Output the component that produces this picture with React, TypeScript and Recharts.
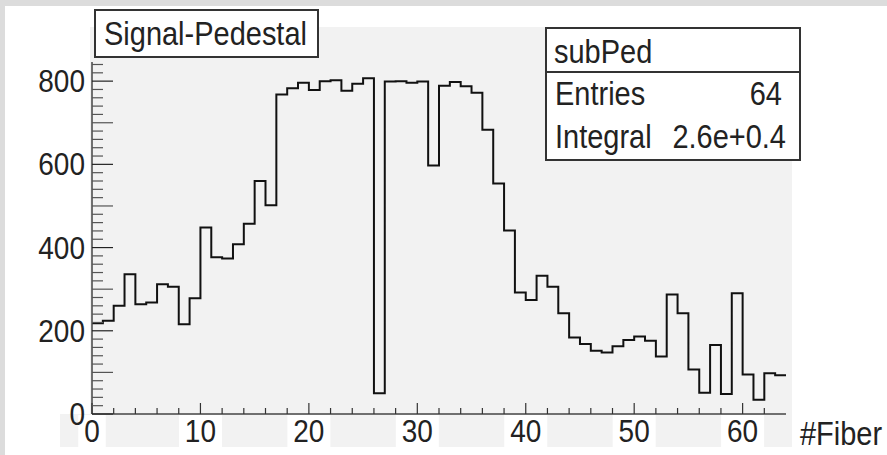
import React from 'react';
import { LineChart, Line, XAxis, YAxis } from 'recharts';

// bin contents, fibers 0..63
const fiberBins = [
  218, 224, 260, 336, 264, 268, 312, 306, 216, 278,
  448, 377, 374, 408, 457, 560, 502, 768, 783, 796,
  779, 800, 802, 777, 794, 807, 50, 799, 800, 796,
  799, 597, 789, 798, 788, 772, 683, 554, 441, 292,
  274, 332, 306, 242, 184, 168, 152, 148, 163, 178,
  186, 176, 138, 287, 242, 107, 51, 166, 48, 290,
  95, 34, 98, 93,
];

const xTicks = Array.from({ length: 32 }, (_, i) => i * 2);
const yTicks = Array.from({ length: 43 }, (_, i) => i * 20);
const xLabelStep = 10;
const yLabelStep = 200;

const histTitle = 'Signal-Pedestal';
const statsName = 'subPed';
const statsEntries = '64';
const statsIntegral = '2.6e+0.4';
const xTitle = '#Fiber';

// step line needs one extra point at the right edge of the last bin
const data = [
  ...fiberBins.map((v, i) => ({ x: i, y: v })),
  { x: fiberBins.length, y: fiberBins[fiberBins.length - 1] },
];

const FONT = '"Liberation Sans", Arial, Helvetica, sans-serif';
const TXT = '#222';

// text is a little taller than wide in the original, stretch it a bit
const T = ({ x, y, size = 29, anchor = 'start', children }: any) => (
  <text
    transform={`translate(${x},${y}) scale(1,1.12)`}
    textAnchor={anchor}
    fontSize={size}
    fontFamily={FONT}
    fill={TXT}
  >
    {children}
  </text>
);

const XTick = (props: any) => {
  const { x, y, payload } = props;
  const v = payload.value;
  const major = v % xLabelStep === 0;
  const label = String(v);
  const w = label.length * 15.5 + 12;
  return (
    <g>
      {major && <rect x={x - w / 2} y={y + 1} width={w} height={33} fill="#fff" />}
      <line x1={x} x2={x} y1={y} y2={y - (major ? 11 : 6)} stroke="#333" strokeWidth={1.2} />
      {major && <T x={x} y={y + 28} size={28} anchor="middle">{label}</T>}
    </g>
  );
};

const YTick = (props: any) => {
  const { x, y, payload } = props;
  const v = payload.value;
  const labelled = v % yLabelStep === 0;
  const len = v % 100 === 0 ? 21 : 11;
  return (
    <g>
      <line x1={x} x2={x + len} y1={y} y2={y} stroke={labelled ? '#222' : '#555'} strokeWidth={1.2} />
      {labelled && <T x={x - 7} y={y + 11} size={28} anchor="end">{v}</T>}
    </g>
  );
};

export default function App() {
  return (
    <div style={{ position: 'relative', width: 887, height: 455, background: '#fff', overflow: 'hidden' }}>
      <style>{'body{margin:0}'}</style>
      {/* screenshot border */}
      <div style={{ position: 'absolute', left: 0, top: 0, width: 887, height: 6, background: '#dcdcdc' }} />
      <div style={{ position: 'absolute', left: 0, top: 0, width: 5, height: 455, background: '#dcdcdc' }} />
      {/* pad fill */}
      <div style={{ position: 'absolute', left: 90, top: 27, width: 702, height: 420, background: '#f2f2f2' }} />
      <div style={{ position: 'absolute', left: 60, top: 414, width: 732, height: 33, background: '#f2f2f2' }} />

      <LineChart
        width={887}
        height={455}
        data={data}
        margin={{ top: 62, right: 101, bottom: 6, left: 12 }}
        style={{ position: 'absolute', left: 0, top: 0 }}
      >
        <XAxis
          dataKey="x"
          type="number"
          domain={[0, 64]}
          ticks={xTicks}
          interval={0}
          height={35}
          tickSize={0}
          tickMargin={0}
          tickLine={false}
          axisLine={{ stroke: '#444', strokeWidth: 1.5 }}
          tick={<XTick />}
        />
        <XAxis
          xAxisId="top"
          orientation="top"
          dataKey="x"
          type="number"
          domain={[0, 64]}
          height={0}
          tick={false}
          tickLine={false}
          axisLine={{ stroke: '#999', strokeWidth: 1 }}
        />
        <YAxis
          type="number"
          domain={[0, 846]}
          ticks={yTicks}
          interval={0}
          width={80}
          tickSize={0}
          tickMargin={0}
          tickLine={false}
          axisLine={{ stroke: '#444', strokeWidth: 1.5 }}
          tick={<YTick />}
        />
        <YAxis
          yAxisId="right"
          orientation="right"
          type="number"
          domain={[0, 846]}
          width={0}
          tick={false}
          tickLine={false}
          axisLine={{ stroke: '#888', strokeWidth: 1.5 }}
        />
        <Line
          dataKey="y"
          type="stepAfter"
          stroke="#111"
          strokeWidth={2}
          dot={false}
          activeDot={false}
          isAnimationActive={false}
        />
      </LineChart>

      <svg width={887} height={455} style={{ position: 'absolute', left: 0, top: 0, pointerEvents: 'none' }}>
        {/* title box */}
        <rect x={95} y={10} width={223} height={47} fill="#fff" stroke="#333" strokeWidth={2} />
        <T x={104} y={45}>{histTitle}</T>

        {/* stats box */}
        <rect x={546} y={28} width={254} height={132} fill="#fff" stroke="#333" strokeWidth={2} />
        <line x1={546} x2={800} y1={72} y2={72} stroke="#333" strokeWidth={2} />
        <T x={554} y={63}>{statsName}</T>
        <T x={555} y={105}>Entries</T>
        <T x={782} y={105} anchor="end">{statsEntries}</T>
        <T x={555} y={148}>Integral</T>
        <T x={786} y={148} anchor="end">{statsIntegral}</T>

        {/* x axis title */}
        <T x={800} y={445}>{xTitle}</T>
      </svg>
    </div>
  );
}
